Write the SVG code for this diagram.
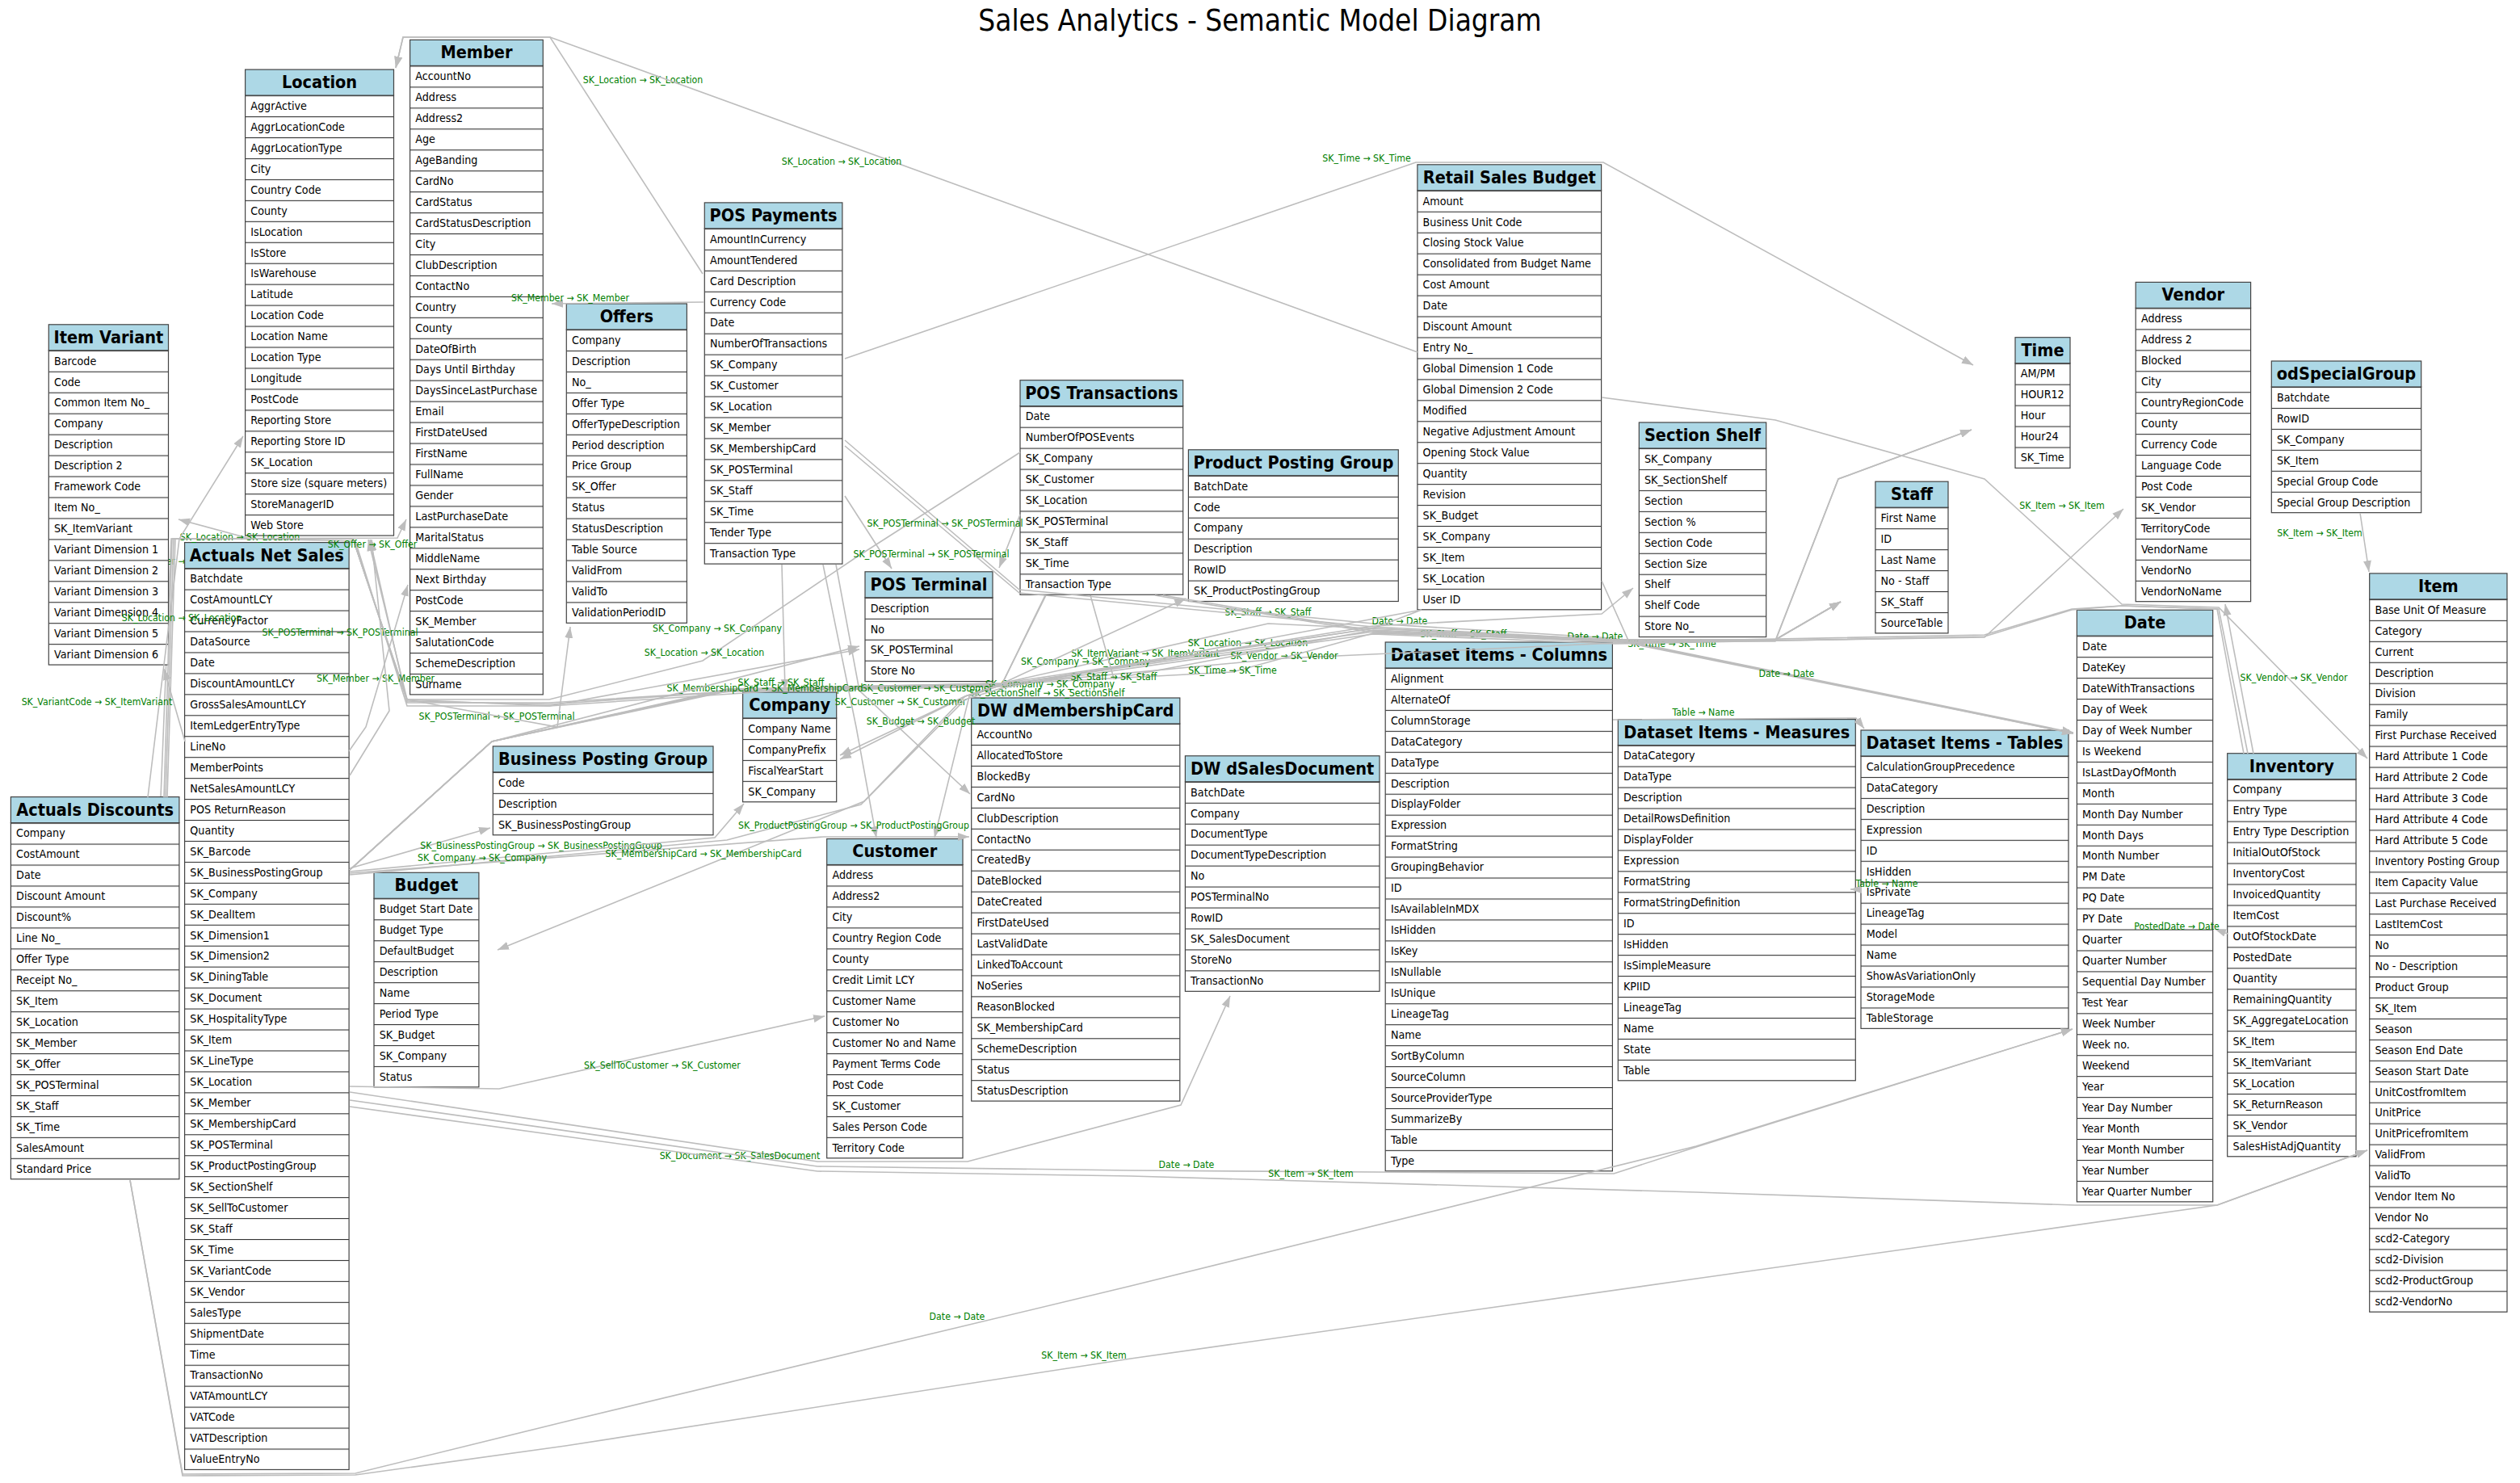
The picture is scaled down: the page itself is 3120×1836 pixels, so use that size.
<svg xmlns="http://www.w3.org/2000/svg" width="3120" height="1836" viewBox="0 0 3120 1836">
<defs>
<style>
.box{fill:url(#rows);stroke:#444;stroke-width:1.2}
.hdr{fill:#add8e6;stroke:#444;stroke-width:1.2}
.ht{font-family:"DejaVu Sans","Liberation Sans",sans-serif;font-weight:bold;font-size:22px;text-anchor:middle;fill:#000}
.rt{font-family:"DejaVu Sans","Liberation Sans",sans-serif;font-size:14.5px;fill:#000}
.e path{fill:none;stroke:#bdbdbd;stroke-width:1.6;marker-end:url(#ah)}
.e text{font-family:"DejaVu Sans","Liberation Sans",sans-serif;font-size:12.5px;fill:#008000;text-anchor:middle}
.title{font-family:"DejaVu Sans","Liberation Sans",sans-serif;font-size:37.5px;text-anchor:middle;fill:#000}
</style>
<marker id="ah" markerUnits="userSpaceOnUse" markerWidth="15" markerHeight="11" refX="14" refY="5.5" orient="auto"><path d="M0,0.5 L14,5.5 L0,10.5 Z" fill="#bdbdbd"/></marker>
<pattern id="rows" patternUnits="userSpaceOnUse" x="0" y="32" width="400" height="25.95"><rect width="400" height="25.95" fill="#fff"/><rect width="400" height="1.1" fill="#333"/></pattern>
</defs>
<rect width="3120" height="1836" fill="#fff"/>
<text class="title" transform="translate(1560,38) scale(0.88,1)">Sales Analytics - Semantic Model Diagram</text>

<g id="connectors-back">
<g class="e" id="e-ad-member"><path d="M199,987 L212,667 L492,666 L503,643"/><text transform="translate(225,698.5) scale(0.88,1)">SK_Member → SK_Member</text></g>
</g>

<g id="nodes">
<g id="node-location" transform="translate(303.6,86.1)"><rect class="box" y="32" width="183.9" height="544.95"/><rect class="hdr" width="183.9" height="32"/><g transform="scale(0.88,1)"><text class="ht" x="104.5" y="23">Location</text><text class="rt"><tspan x="7.6" y="49.8">AggrActive</tspan><tspan x="7.6" dy="25.95">AggrLocationCode</tspan><tspan x="7.6" dy="25.95">AggrLocationType</tspan><tspan x="7.6" dy="25.95">City</tspan><tspan x="7.6" dy="25.95">Country Code</tspan><tspan x="7.6" dy="25.95">County</tspan><tspan x="7.6" dy="25.95">IsLocation</tspan><tspan x="7.6" dy="25.95">IsStore</tspan><tspan x="7.6" dy="25.95">IsWarehouse</tspan><tspan x="7.6" dy="25.95">Latitude</tspan><tspan x="7.6" dy="25.95">Location Code</tspan><tspan x="7.6" dy="25.95">Location Name</tspan><tspan x="7.6" dy="25.95">Location Type</tspan><tspan x="7.6" dy="25.95">Longitude</tspan><tspan x="7.6" dy="25.95">PostCode</tspan><tspan x="7.6" dy="25.95">Reporting Store</tspan><tspan x="7.6" dy="25.95">Reporting Store ID</tspan><tspan x="7.6" dy="25.95">SK_Location</tspan><tspan x="7.6" dy="25.95">Store size (square meters)</tspan><tspan x="7.6" dy="25.95">StoreManagerID</tspan><tspan x="7.6" dy="25.95">Web Store</tspan></text></g></g>

<g id="node-member" transform="translate(507.6,49.4)"><rect class="box" y="32" width="164.7" height="778.5"/><rect class="hdr" width="164.7" height="32"/><g transform="scale(0.88,1)"><text class="ht" x="93.6" y="23">Member</text><text class="rt"><tspan x="7.6" y="49.8">AccountNo</tspan><tspan x="7.6" dy="25.95">Address</tspan><tspan x="7.6" dy="25.95">Address2</tspan><tspan x="7.6" dy="25.95">Age</tspan><tspan x="7.6" dy="25.95">AgeBanding</tspan><tspan x="7.6" dy="25.95">CardNo</tspan><tspan x="7.6" dy="25.95">CardStatus</tspan><tspan x="7.6" dy="25.95">CardStatusDescription</tspan><tspan x="7.6" dy="25.95">City</tspan><tspan x="7.6" dy="25.95">ClubDescription</tspan><tspan x="7.6" dy="25.95">ContactNo</tspan><tspan x="7.6" dy="25.95">Country</tspan><tspan x="7.6" dy="25.95">County</tspan><tspan x="7.6" dy="25.95">DateOfBirth</tspan><tspan x="7.6" dy="25.95">Days Until Birthday</tspan><tspan x="7.6" dy="25.95">DaysSinceLastPurchase</tspan><tspan x="7.6" dy="25.95">Email</tspan><tspan x="7.6" dy="25.95">FirstDateUsed</tspan><tspan x="7.6" dy="25.95">FirstName</tspan><tspan x="7.6" dy="25.95">FullName</tspan><tspan x="7.6" dy="25.95">Gender</tspan><tspan x="7.6" dy="25.95">LastPurchaseDate</tspan><tspan x="7.6" dy="25.95">MaritalStatus</tspan><tspan x="7.6" dy="25.95">MiddleName</tspan><tspan x="7.6" dy="25.95">Next Birthday</tspan><tspan x="7.6" dy="25.95">PostCode</tspan><tspan x="7.6" dy="25.95">SK_Member</tspan><tspan x="7.6" dy="25.95">SalutationCode</tspan><tspan x="7.6" dy="25.95">SchemeDescription</tspan><tspan x="7.6" dy="25.95">Surname</tspan></text></g></g>

<g id="node-item-variant" transform="translate(60.3,401.8)"><rect class="box" y="32" width="148.2" height="389.25"/><rect class="hdr" width="148.2" height="32"/><g transform="scale(0.88,1)"><text class="ht" x="84.2" y="23">Item Variant</text><text class="rt"><tspan x="7.6" y="49.8">Barcode</tspan><tspan x="7.6" dy="25.95">Code</tspan><tspan x="7.6" dy="25.95">Common Item No_</tspan><tspan x="7.6" dy="25.95">Company</tspan><tspan x="7.6" dy="25.95">Description</tspan><tspan x="7.6" dy="25.95">Description 2</tspan><tspan x="7.6" dy="25.95">Framework Code</tspan><tspan x="7.6" dy="25.95">Item No_</tspan><tspan x="7.6" dy="25.95">SK_ItemVariant</tspan><tspan x="7.6" dy="25.95">Variant Dimension 1</tspan><tspan x="7.6" dy="25.95">Variant Dimension 2</tspan><tspan x="7.6" dy="25.95">Variant Dimension 3</tspan><tspan x="7.6" dy="25.95">Variant Dimension 4</tspan><tspan x="7.6" dy="25.95">Variant Dimension 5</tspan><tspan x="7.6" dy="25.95">Variant Dimension 6</tspan></text></g></g>

<g id="node-actuals-net-sales" transform="translate(228.6,671.6)"><rect class="box" y="32" width="203.5" height="1115.85"/><rect class="hdr" width="203.5" height="32"/><g transform="scale(0.88,1)"><text class="ht" x="115.6" y="23">Actuals Net Sales</text><text class="rt"><tspan x="7.6" y="49.8">Batchdate</tspan><tspan x="7.6" dy="25.95">CostAmountLCY</tspan><tspan x="7.6" dy="25.95">CurrencyFactor</tspan><tspan x="7.6" dy="25.95">DataSource</tspan><tspan x="7.6" dy="25.95">Date</tspan><tspan x="7.6" dy="25.95">DiscountAmountLCY</tspan><tspan x="7.6" dy="25.95">GrossSalesAmountLCY</tspan><tspan x="7.6" dy="25.95">ItemLedgerEntryType</tspan><tspan x="7.6" dy="25.95">LineNo</tspan><tspan x="7.6" dy="25.95">MemberPoints</tspan><tspan x="7.6" dy="25.95">NetSalesAmountLCY</tspan><tspan x="7.6" dy="25.95">POS ReturnReason</tspan><tspan x="7.6" dy="25.95">Quantity</tspan><tspan x="7.6" dy="25.95">SK_Barcode</tspan><tspan x="7.6" dy="25.95">SK_BusinessPostingGroup</tspan><tspan x="7.6" dy="25.95">SK_Company</tspan><tspan x="7.6" dy="25.95">SK_DealItem</tspan><tspan x="7.6" dy="25.95">SK_Dimension1</tspan><tspan x="7.6" dy="25.95">SK_Dimension2</tspan><tspan x="7.6" dy="25.95">SK_DiningTable</tspan><tspan x="7.6" dy="25.95">SK_Document</tspan><tspan x="7.6" dy="25.95">SK_HospitalityType</tspan><tspan x="7.6" dy="25.95">SK_Item</tspan><tspan x="7.6" dy="25.95">SK_LineType</tspan><tspan x="7.6" dy="25.95">SK_Location</tspan><tspan x="7.6" dy="25.95">SK_Member</tspan><tspan x="7.6" dy="25.95">SK_MembershipCard</tspan><tspan x="7.6" dy="25.95">SK_POSTerminal</tspan><tspan x="7.6" dy="25.95">SK_ProductPostingGroup</tspan><tspan x="7.6" dy="25.95">SK_SectionShelf</tspan><tspan x="7.6" dy="25.95">SK_SellToCustomer</tspan><tspan x="7.6" dy="25.95">SK_Staff</tspan><tspan x="7.6" dy="25.95">SK_Time</tspan><tspan x="7.6" dy="25.95">SK_VariantCode</tspan><tspan x="7.6" dy="25.95">SK_Vendor</tspan><tspan x="7.6" dy="25.95">SalesType</tspan><tspan x="7.6" dy="25.95">ShipmentDate</tspan><tspan x="7.6" dy="25.95">Time</tspan><tspan x="7.6" dy="25.95">TransactionNo</tspan><tspan x="7.6" dy="25.95">VATAmountLCY</tspan><tspan x="7.6" dy="25.95">VATCode</tspan><tspan x="7.6" dy="25.95">VATDescription</tspan><tspan x="7.6" dy="25.95">ValueEntryNo</tspan></text></g></g>

<g id="node-actuals-discounts" transform="translate(13.4,986.6)"><rect class="box" y="32" width="208.5" height="441.15"/><rect class="hdr" width="208.5" height="32"/><g transform="scale(0.88,1)"><text class="ht" x="118.5" y="23">Actuals Discounts</text><text class="rt"><tspan x="7.6" y="49.8">Company</tspan><tspan x="7.6" dy="25.95">CostAmount</tspan><tspan x="7.6" dy="25.95">Date</tspan><tspan x="7.6" dy="25.95">Discount Amount</tspan><tspan x="7.6" dy="25.95">Discount%</tspan><tspan x="7.6" dy="25.95">Line No_</tspan><tspan x="7.6" dy="25.95">Offer Type</tspan><tspan x="7.6" dy="25.95">Receipt No_</tspan><tspan x="7.6" dy="25.95">SK_Item</tspan><tspan x="7.6" dy="25.95">SK_Location</tspan><tspan x="7.6" dy="25.95">SK_Member</tspan><tspan x="7.6" dy="25.95">SK_Offer</tspan><tspan x="7.6" dy="25.95">SK_POSTerminal</tspan><tspan x="7.6" dy="25.95">SK_Staff</tspan><tspan x="7.6" dy="25.95">SK_Time</tspan><tspan x="7.6" dy="25.95">SalesAmount</tspan><tspan x="7.6" dy="25.95">Standard Price</tspan></text></g></g>

<g id="node-budget" transform="translate(463,1080.3)"><rect class="box" y="32" width="129.9" height="233.55"/><rect class="hdr" width="129.9" height="32"/><g transform="scale(0.88,1)"><text class="ht" x="73.8" y="23">Budget</text><text class="rt"><tspan x="7.6" y="49.8">Budget Start Date</tspan><tspan x="7.6" dy="25.95">Budget Type</tspan><tspan x="7.6" dy="25.95">DefaultBudget</tspan><tspan x="7.6" dy="25.95">Description</tspan><tspan x="7.6" dy="25.95">Name</tspan><tspan x="7.6" dy="25.95">Period Type</tspan><tspan x="7.6" dy="25.95">SK_Budget</tspan><tspan x="7.6" dy="25.95">SK_Company</tspan><tspan x="7.6" dy="25.95">Status</tspan></text></g></g>

<g id="node-business-posting-group" transform="translate(610.3,923.9)"><rect class="box" y="32" width="272.7" height="77.85"/><rect class="hdr" width="272.7" height="32"/><g transform="scale(0.88,1)"><text class="ht" x="154.9" y="23">Business Posting Group</text><text class="rt"><tspan x="7.6" y="49.8">Code</tspan><tspan x="7.6" dy="25.95">Description</tspan><tspan x="7.6" dy="25.95">SK_BusinessPostingGroup</tspan></text></g></g>

<g id="node-pos-payments" transform="translate(872.3,250.9)"><rect class="box" y="32" width="170.6" height="415.2"/><rect class="hdr" width="170.6" height="32"/><g transform="scale(0.88,1)"><text class="ht" x="96.9" y="23">POS Payments</text><text class="rt"><tspan x="7.6" y="49.8">AmountInCurrency</tspan><tspan x="7.6" dy="25.95">AmountTendered</tspan><tspan x="7.6" dy="25.95">Card Description</tspan><tspan x="7.6" dy="25.95">Currency Code</tspan><tspan x="7.6" dy="25.95">Date</tspan><tspan x="7.6" dy="25.95">NumberOfTransactions</tspan><tspan x="7.6" dy="25.95">SK_Company</tspan><tspan x="7.6" dy="25.95">SK_Customer</tspan><tspan x="7.6" dy="25.95">SK_Location</tspan><tspan x="7.6" dy="25.95">SK_Member</tspan><tspan x="7.6" dy="25.95">SK_MembershipCard</tspan><tspan x="7.6" dy="25.95">SK_POSTerminal</tspan><tspan x="7.6" dy="25.95">SK_Staff</tspan><tspan x="7.6" dy="25.95">SK_Time</tspan><tspan x="7.6" dy="25.95">Tender Type</tspan><tspan x="7.6" dy="25.95">Transaction Type</tspan></text></g></g>

<g id="node-offers" transform="translate(701.3,376)"><rect class="box" y="32" width="149.1" height="363.3"/><rect class="hdr" width="149.1" height="32"/><g transform="scale(0.88,1)"><text class="ht" x="84.7" y="23">Offers</text><text class="rt"><tspan x="7.6" y="49.8">Company</tspan><tspan x="7.6" dy="25.95">Description</tspan><tspan x="7.6" dy="25.95">No_</tspan><tspan x="7.6" dy="25.95">Offer Type</tspan><tspan x="7.6" dy="25.95">OfferTypeDescription</tspan><tspan x="7.6" dy="25.95">Period description</tspan><tspan x="7.6" dy="25.95">Price Group</tspan><tspan x="7.6" dy="25.95">SK_Offer</tspan><tspan x="7.6" dy="25.95">Status</tspan><tspan x="7.6" dy="25.95">StatusDescription</tspan><tspan x="7.6" dy="25.95">Table Source</tspan><tspan x="7.6" dy="25.95">ValidFrom</tspan><tspan x="7.6" dy="25.95">ValidTo</tspan><tspan x="7.6" dy="25.95">ValidationPeriodID</tspan></text></g></g>

<g id="node-pos-transactions" transform="translate(1263,470.7)"><rect class="box" y="32" width="201.7" height="233.55"/><rect class="hdr" width="201.7" height="32"/><g transform="scale(0.88,1)"><text class="ht" x="114.6" y="23">POS Transactions</text><text class="rt"><tspan x="7.6" y="49.8">Date</tspan><tspan x="7.6" dy="25.95">NumberOfPOSEvents</tspan><tspan x="7.6" dy="25.95">SK_Company</tspan><tspan x="7.6" dy="25.95">SK_Customer</tspan><tspan x="7.6" dy="25.95">SK_Location</tspan><tspan x="7.6" dy="25.95">SK_POSTerminal</tspan><tspan x="7.6" dy="25.95">SK_Staff</tspan><tspan x="7.6" dy="25.95">SK_Time</tspan><tspan x="7.6" dy="25.95">Transaction Type</tspan></text></g></g>

<g id="node-pos-terminal" transform="translate(1071,707.8)"><rect class="box" y="32" width="158" height="103.8"/><rect class="hdr" width="158" height="32"/><g transform="scale(0.88,1)"><text class="ht" x="89.8" y="23">POS Terminal</text><text class="rt"><tspan x="7.6" y="49.8">Description</tspan><tspan x="7.6" dy="25.95">No</tspan><tspan x="7.6" dy="25.95">SK_POSTerminal</tspan><tspan x="7.6" dy="25.95">Store No</tspan></text></g></g>

<g id="node-company" transform="translate(919.6,857)"><rect class="box" y="32" width="116.1" height="103.8"/><rect class="hdr" width="116.1" height="32"/><g transform="scale(0.88,1)"><text class="ht" x="66" y="23">Company</text><text class="rt"><tspan x="7.6" y="49.8">Company Name</tspan><tspan x="7.6" dy="25.95">CompanyPrefix</tspan><tspan x="7.6" dy="25.95">FiscalYearStart</tspan><tspan x="7.6" dy="25.95">SK_Company</tspan></text></g></g>

<g id="node-dw-dmembershipcard" transform="translate(1202.7,864)"><rect class="box" y="32" width="258.1" height="467.1"/><rect class="hdr" width="258.1" height="32"/><g transform="scale(0.88,1)"><text class="ht" x="146.6" y="23">DW dMembershipCard</text><text class="rt"><tspan x="7.6" y="49.8">AccountNo</tspan><tspan x="7.6" dy="25.95">AllocatedToStore</tspan><tspan x="7.6" dy="25.95">BlockedBy</tspan><tspan x="7.6" dy="25.95">CardNo</tspan><tspan x="7.6" dy="25.95">ClubDescription</tspan><tspan x="7.6" dy="25.95">ContactNo</tspan><tspan x="7.6" dy="25.95">CreatedBy</tspan><tspan x="7.6" dy="25.95">DateBlocked</tspan><tspan x="7.6" dy="25.95">DateCreated</tspan><tspan x="7.6" dy="25.95">FirstDateUsed</tspan><tspan x="7.6" dy="25.95">LastValidDate</tspan><tspan x="7.6" dy="25.95">LinkedToAccount</tspan><tspan x="7.6" dy="25.95">NoSeries</tspan><tspan x="7.6" dy="25.95">ReasonBlocked</tspan><tspan x="7.6" dy="25.95">SK_MembershipCard</tspan><tspan x="7.6" dy="25.95">SchemeDescription</tspan><tspan x="7.6" dy="25.95">Status</tspan><tspan x="7.6" dy="25.95">StatusDescription</tspan></text></g></g>

<g id="node-customer" transform="translate(1023.7,1038.5)"><rect class="box" y="32" width="168.3" height="363.3"/><rect class="hdr" width="168.3" height="32"/><g transform="scale(0.88,1)"><text class="ht" x="95.6" y="23">Customer</text><text class="rt"><tspan x="7.6" y="49.8">Address</tspan><tspan x="7.6" dy="25.95">Address2</tspan><tspan x="7.6" dy="25.95">City</tspan><tspan x="7.6" dy="25.95">Country Region Code</tspan><tspan x="7.6" dy="25.95">County</tspan><tspan x="7.6" dy="25.95">Credit Limit LCY</tspan><tspan x="7.6" dy="25.95">Customer Name</tspan><tspan x="7.6" dy="25.95">Customer No</tspan><tspan x="7.6" dy="25.95">Customer No and Name</tspan><tspan x="7.6" dy="25.95">Payment Terms Code</tspan><tspan x="7.6" dy="25.95">Post Code</tspan><tspan x="7.6" dy="25.95">SK_Customer</tspan><tspan x="7.6" dy="25.95">Sales Person Code</tspan><tspan x="7.6" dy="25.95">Territory Code</tspan></text></g></g>

<g id="node-retail-sales-budget" transform="translate(1754.9,203.8)"><rect class="box" y="32" width="227.7" height="519"/><rect class="hdr" width="227.7" height="32"/><g transform="scale(0.88,1)"><text class="ht" x="129.4" y="23">Retail Sales Budget</text><text class="rt"><tspan x="7.6" y="49.8">Amount</tspan><tspan x="7.6" dy="25.95">Business Unit Code</tspan><tspan x="7.6" dy="25.95">Closing Stock Value</tspan><tspan x="7.6" dy="25.95">Consolidated from Budget Name</tspan><tspan x="7.6" dy="25.95">Cost Amount</tspan><tspan x="7.6" dy="25.95">Date</tspan><tspan x="7.6" dy="25.95">Discount Amount</tspan><tspan x="7.6" dy="25.95">Entry No_</tspan><tspan x="7.6" dy="25.95">Global Dimension 1 Code</tspan><tspan x="7.6" dy="25.95">Global Dimension 2 Code</tspan><tspan x="7.6" dy="25.95">Modified</tspan><tspan x="7.6" dy="25.95">Negative Adjustment Amount</tspan><tspan x="7.6" dy="25.95">Opening Stock Value</tspan><tspan x="7.6" dy="25.95">Quantity</tspan><tspan x="7.6" dy="25.95">Revision</tspan><tspan x="7.6" dy="25.95">SK_Budget</tspan><tspan x="7.6" dy="25.95">SK_Company</tspan><tspan x="7.6" dy="25.95">SK_Item</tspan><tspan x="7.6" dy="25.95">SK_Location</tspan><tspan x="7.6" dy="25.95">User ID</tspan></text></g></g>

<g id="node-product-posting-group" transform="translate(1471.4,556.8)"><rect class="box" y="32" width="259.9" height="155.7"/><rect class="hdr" width="259.9" height="32"/><g transform="scale(0.88,1)"><text class="ht" x="147.7" y="23">Product Posting Group</text><text class="rt"><tspan x="7.6" y="49.8">BatchDate</tspan><tspan x="7.6" dy="25.95">Code</tspan><tspan x="7.6" dy="25.95">Company</tspan><tspan x="7.6" dy="25.95">Description</tspan><tspan x="7.6" dy="25.95">RowID</tspan><tspan x="7.6" dy="25.95">SK_ProductPostingGroup</tspan></text></g></g>

<g id="node-section-shelf" transform="translate(2029.3,523)"><rect class="box" y="32" width="157.4" height="233.55"/><rect class="hdr" width="157.4" height="32"/><g transform="scale(0.88,1)"><text class="ht" x="89.4" y="23">Section Shelf</text><text class="rt"><tspan x="7.6" y="49.8">SK_Company</tspan><tspan x="7.6" dy="25.95">SK_SectionShelf</tspan><tspan x="7.6" dy="25.95">Section</tspan><tspan x="7.6" dy="25.95">Section %</tspan><tspan x="7.6" dy="25.95">Section Code</tspan><tspan x="7.6" dy="25.95">Section Size</tspan><tspan x="7.6" dy="25.95">Shelf</tspan><tspan x="7.6" dy="25.95">Shelf Code</tspan><tspan x="7.6" dy="25.95">Store No_</tspan></text></g></g>

<g id="node-dataset-items-columns" transform="translate(1715.2,795)"><rect class="box" y="32" width="281.2" height="622.8"/><rect class="hdr" width="281.2" height="32"/><g transform="scale(0.88,1)"><text class="ht" x="159.8" y="23">Dataset Items - Columns</text><text class="rt"><tspan x="7.6" y="49.8">Alignment</tspan><tspan x="7.6" dy="25.95">AlternateOf</tspan><tspan x="7.6" dy="25.95">ColumnStorage</tspan><tspan x="7.6" dy="25.95">DataCategory</tspan><tspan x="7.6" dy="25.95">DataType</tspan><tspan x="7.6" dy="25.95">Description</tspan><tspan x="7.6" dy="25.95">DisplayFolder</tspan><tspan x="7.6" dy="25.95">Expression</tspan><tspan x="7.6" dy="25.95">FormatString</tspan><tspan x="7.6" dy="25.95">GroupingBehavior</tspan><tspan x="7.6" dy="25.95">ID</tspan><tspan x="7.6" dy="25.95">IsAvailableInMDX</tspan><tspan x="7.6" dy="25.95">IsHidden</tspan><tspan x="7.6" dy="25.95">IsKey</tspan><tspan x="7.6" dy="25.95">IsNullable</tspan><tspan x="7.6" dy="25.95">IsUnique</tspan><tspan x="7.6" dy="25.95">LineageTag</tspan><tspan x="7.6" dy="25.95">Name</tspan><tspan x="7.6" dy="25.95">SortByColumn</tspan><tspan x="7.6" dy="25.95">SourceColumn</tspan><tspan x="7.6" dy="25.95">SourceProviderType</tspan><tspan x="7.6" dy="25.95">SummarizeBy</tspan><tspan x="7.6" dy="25.95">Table</tspan><tspan x="7.6" dy="25.95">Type</tspan></text></g></g>

<g id="node-dw-dsalesdocument" transform="translate(1467.4,935.8)"><rect class="box" y="32" width="240.6" height="259.5"/><rect class="hdr" width="240.6" height="32"/><g transform="scale(0.88,1)"><text class="ht" x="136.7" y="23">DW dSalesDocument</text><text class="rt"><tspan x="7.6" y="49.8">BatchDate</tspan><tspan x="7.6" dy="25.95">Company</tspan><tspan x="7.6" dy="25.95">DocumentType</tspan><tspan x="7.6" dy="25.95">DocumentTypeDescription</tspan><tspan x="7.6" dy="25.95">No</tspan><tspan x="7.6" dy="25.95">POSTerminalNo</tspan><tspan x="7.6" dy="25.95">RowID</tspan><tspan x="7.6" dy="25.95">SK_SalesDocument</tspan><tspan x="7.6" dy="25.95">StoreNo</tspan><tspan x="7.6" dy="25.95">TransactionNo</tspan></text></g></g>

<g id="node-dataset-items-measures" transform="translate(2003.3,890.6)"><rect class="box" y="32" width="294" height="415.2"/><rect class="hdr" width="294" height="32"/><g transform="scale(0.88,1)"><text class="ht" x="167" y="23">Dataset Items - Measures</text><text class="rt"><tspan x="7.6" y="49.8">DataCategory</tspan><tspan x="7.6" dy="25.95">DataType</tspan><tspan x="7.6" dy="25.95">Description</tspan><tspan x="7.6" dy="25.95">DetailRowsDefinition</tspan><tspan x="7.6" dy="25.95">DisplayFolder</tspan><tspan x="7.6" dy="25.95">Expression</tspan><tspan x="7.6" dy="25.95">FormatString</tspan><tspan x="7.6" dy="25.95">FormatStringDefinition</tspan><tspan x="7.6" dy="25.95">ID</tspan><tspan x="7.6" dy="25.95">IsHidden</tspan><tspan x="7.6" dy="25.95">IsSimpleMeasure</tspan><tspan x="7.6" dy="25.95">KPIID</tspan><tspan x="7.6" dy="25.95">LineageTag</tspan><tspan x="7.6" dy="25.95">Name</tspan><tspan x="7.6" dy="25.95">State</tspan><tspan x="7.6" dy="25.95">Table</tspan></text></g></g>

<g id="node-dataset-items-tables" transform="translate(2304,904)"><rect class="box" y="32" width="257" height="337.35"/><rect class="hdr" width="257" height="32"/><g transform="scale(0.88,1)"><text class="ht" x="146" y="23">Dataset Items - Tables</text><text class="rt"><tspan x="7.6" y="49.8">CalculationGroupPrecedence</tspan><tspan x="7.6" dy="25.95">DataCategory</tspan><tspan x="7.6" dy="25.95">Description</tspan><tspan x="7.6" dy="25.95">Expression</tspan><tspan x="7.6" dy="25.95">ID</tspan><tspan x="7.6" dy="25.95">IsHidden</tspan><tspan x="7.6" dy="25.95">IsPrivate</tspan><tspan x="7.6" dy="25.95">LineageTag</tspan><tspan x="7.6" dy="25.95">Model</tspan><tspan x="7.6" dy="25.95">Name</tspan><tspan x="7.6" dy="25.95">ShowAsVariationOnly</tspan><tspan x="7.6" dy="25.95">StorageMode</tspan><tspan x="7.6" dy="25.95">TableStorage</tspan></text></g></g>

<g id="node-staff" transform="translate(2321.9,596.2)"><rect class="box" y="32" width="90.1" height="155.7"/><rect class="hdr" width="90.1" height="32"/><g transform="scale(0.88,1)"><text class="ht" x="51.2" y="23">Staff</text><text class="rt"><tspan x="7.6" y="49.8">First Name</tspan><tspan x="7.6" dy="25.95">ID</tspan><tspan x="7.6" dy="25.95">Last Name</tspan><tspan x="7.6" dy="25.95">No - Staff</tspan><tspan x="7.6" dy="25.95">SK_Staff</tspan><tspan x="7.6" dy="25.95">SourceTable</tspan></text></g></g>

<g id="node-time" transform="translate(2495,417.7)"><rect class="box" y="32" width="68" height="129.75"/><rect class="hdr" width="68" height="32"/><g transform="scale(0.88,1)"><text class="ht" x="38.6" y="23">Time</text><text class="rt"><tspan x="7.6" y="49.8">AM/PM</tspan><tspan x="7.6" dy="25.95">HOUR12</tspan><tspan x="7.6" dy="25.95">Hour</tspan><tspan x="7.6" dy="25.95">Hour24</tspan><tspan x="7.6" dy="25.95">SK_Time</tspan></text></g></g>

<g id="node-vendor" transform="translate(2644.2,349.4)"><rect class="box" y="32" width="142.4" height="363.3"/><rect class="hdr" width="142.4" height="32"/><g transform="scale(0.88,1)"><text class="ht" x="80.9" y="23">Vendor</text><text class="rt"><tspan x="7.6" y="49.8">Address</tspan><tspan x="7.6" dy="25.95">Address 2</tspan><tspan x="7.6" dy="25.95">Blocked</tspan><tspan x="7.6" dy="25.95">City</tspan><tspan x="7.6" dy="25.95">CountryRegionCode</tspan><tspan x="7.6" dy="25.95">County</tspan><tspan x="7.6" dy="25.95">Currency Code</tspan><tspan x="7.6" dy="25.95">Language Code</tspan><tspan x="7.6" dy="25.95">Post Code</tspan><tspan x="7.6" dy="25.95">SK_Vendor</tspan><tspan x="7.6" dy="25.95">TerritoryCode</tspan><tspan x="7.6" dy="25.95">VendorName</tspan><tspan x="7.6" dy="25.95">VendorNo</tspan><tspan x="7.6" dy="25.95">VendorNoName</tspan></text></g></g>

<g id="node-date" transform="translate(2571.4,755.2)"><rect class="box" y="32" width="168.3" height="700.65"/><rect class="hdr" width="168.3" height="32"/><g transform="scale(0.88,1)"><text class="ht" x="95.6" y="23">Date</text><text class="rt"><tspan x="7.6" y="49.8">Date</tspan><tspan x="7.6" dy="25.95">DateKey</tspan><tspan x="7.6" dy="25.95">DateWithTransactions</tspan><tspan x="7.6" dy="25.95">Day of Week</tspan><tspan x="7.6" dy="25.95">Day of Week Number</tspan><tspan x="7.6" dy="25.95">Is Weekend</tspan><tspan x="7.6" dy="25.95">IsLastDayOfMonth</tspan><tspan x="7.6" dy="25.95">Month</tspan><tspan x="7.6" dy="25.95">Month Day Number</tspan><tspan x="7.6" dy="25.95">Month Days</tspan><tspan x="7.6" dy="25.95">Month Number</tspan><tspan x="7.6" dy="25.95">PM Date</tspan><tspan x="7.6" dy="25.95">PQ Date</tspan><tspan x="7.6" dy="25.95">PY Date</tspan><tspan x="7.6" dy="25.95">Quarter</tspan><tspan x="7.6" dy="25.95">Quarter Number</tspan><tspan x="7.6" dy="25.95">Sequential Day Number</tspan><tspan x="7.6" dy="25.95">Test Year</tspan><tspan x="7.6" dy="25.95">Week Number</tspan><tspan x="7.6" dy="25.95">Week no.</tspan><tspan x="7.6" dy="25.95">Weekend</tspan><tspan x="7.6" dy="25.95">Year</tspan><tspan x="7.6" dy="25.95">Year Day Number</tspan><tspan x="7.6" dy="25.95">Year Month</tspan><tspan x="7.6" dy="25.95">Year Month Number</tspan><tspan x="7.6" dy="25.95">Year Number</tspan><tspan x="7.6" dy="25.95">Year Quarter Number</tspan></text></g></g>

<g id="node-odspecialgroup" transform="translate(2812.3,447)"><rect class="box" y="32" width="185.4" height="155.7"/><rect class="hdr" width="185.4" height="32"/><g transform="scale(0.88,1)"><text class="ht" x="105.3" y="23">odSpecialGroup</text><text class="rt"><tspan x="7.6" y="49.8">Batchdate</tspan><tspan x="7.6" dy="25.95">RowID</tspan><tspan x="7.6" dy="25.95">SK_Company</tspan><tspan x="7.6" dy="25.95">SK_Item</tspan><tspan x="7.6" dy="25.95">Special Group Code</tspan><tspan x="7.6" dy="25.95">Special Group Description</tspan></text></g></g>

<g id="node-item" transform="translate(2933.7,709.9)"><rect class="box" y="32" width="170.3" height="882.3"/><rect class="hdr" width="170.3" height="32"/><g transform="scale(0.88,1)"><text class="ht" x="96.8" y="23">Item</text><text class="rt"><tspan x="7.6" y="49.8">Base Unit Of Measure</tspan><tspan x="7.6" dy="25.95">Category</tspan><tspan x="7.6" dy="25.95">Current</tspan><tspan x="7.6" dy="25.95">Description</tspan><tspan x="7.6" dy="25.95">Division</tspan><tspan x="7.6" dy="25.95">Family</tspan><tspan x="7.6" dy="25.95">First Purchase Received</tspan><tspan x="7.6" dy="25.95">Hard Attribute 1 Code</tspan><tspan x="7.6" dy="25.95">Hard Attribute 2 Code</tspan><tspan x="7.6" dy="25.95">Hard Attribute 3 Code</tspan><tspan x="7.6" dy="25.95">Hard Attribute 4 Code</tspan><tspan x="7.6" dy="25.95">Hard Attribute 5 Code</tspan><tspan x="7.6" dy="25.95">Inventory Posting Group</tspan><tspan x="7.6" dy="25.95">Item Capacity Value</tspan><tspan x="7.6" dy="25.95">Last Purchase Received</tspan><tspan x="7.6" dy="25.95">LastItemCost</tspan><tspan x="7.6" dy="25.95">No</tspan><tspan x="7.6" dy="25.95">No - Description</tspan><tspan x="7.6" dy="25.95">Product Group</tspan><tspan x="7.6" dy="25.95">SK_Item</tspan><tspan x="7.6" dy="25.95">Season</tspan><tspan x="7.6" dy="25.95">Season End Date</tspan><tspan x="7.6" dy="25.95">Season Start Date</tspan><tspan x="7.6" dy="25.95">UnitCostfromItem</tspan><tspan x="7.6" dy="25.95">UnitPrice</tspan><tspan x="7.6" dy="25.95">UnitPricefromItem</tspan><tspan x="7.6" dy="25.95">ValidFrom</tspan><tspan x="7.6" dy="25.95">ValidTo</tspan><tspan x="7.6" dy="25.95">Vendor Item No</tspan><tspan x="7.6" dy="25.95">Vendor No</tspan><tspan x="7.6" dy="25.95">scd2-Category</tspan><tspan x="7.6" dy="25.95">scd2-Division</tspan><tspan x="7.6" dy="25.95">scd2-ProductGroup</tspan><tspan x="7.6" dy="25.95">scd2-VendorNo</tspan></text></g></g>

<g id="node-inventory" transform="translate(2757.7,932.7)"><rect class="box" y="32" width="159.3" height="467.1"/><rect class="hdr" width="159.3" height="32"/><g transform="scale(0.88,1)"><text class="ht" x="90.5" y="23">Inventory</text><text class="rt"><tspan x="7.6" y="49.8">Company</tspan><tspan x="7.6" dy="25.95">Entry Type</tspan><tspan x="7.6" dy="25.95">Entry Type Description</tspan><tspan x="7.6" dy="25.95">InitialOutOfStock</tspan><tspan x="7.6" dy="25.95">InventoryCost</tspan><tspan x="7.6" dy="25.95">InvoicedQuantity</tspan><tspan x="7.6" dy="25.95">ItemCost</tspan><tspan x="7.6" dy="25.95">OutOfStockDate</tspan><tspan x="7.6" dy="25.95">PostedDate</tspan><tspan x="7.6" dy="25.95">Quantity</tspan><tspan x="7.6" dy="25.95">RemainingQuantity</tspan><tspan x="7.6" dy="25.95">SK_AggregateLocation</tspan><tspan x="7.6" dy="25.95">SK_Item</tspan><tspan x="7.6" dy="25.95">SK_ItemVariant</tspan><tspan x="7.6" dy="25.95">SK_Location</tspan><tspan x="7.6" dy="25.95">SK_ReturnReason</tspan><tspan x="7.6" dy="25.95">SK_Vendor</tspan><tspan x="7.6" dy="25.95">SalesHistAdjQuantity</tspan></text></g></g>
</g>

<g id="connectors">
<g class="e"><path d="M870,339 L681,46 L499,46 L490,84"/><text transform="translate(796,102.5) scale(0.88,1)">SK_Location → SK_Location</text></g>
<g class="e"><path d="M1755,436 L681,46 L499,46 L490,84"/><text transform="translate(1042,203.5) scale(0.88,1)">SK_Location → SK_Location</text></g>
<g class="e"><path d="M1046,444 L1753,201 L1985,201 L2443,452"/><text transform="translate(1692,199.5) scale(0.88,1)">SK_Time → SK_Time</text></g>
<g class="e"><path d="M872,374 L683,376"/><text transform="translate(706,372.5) scale(0.88,1)">SK_Member → SK_Member</text></g>
<g class="e"><path d="M1983,492 L2198,520 L2457,593 L2627,748 L2747,752 L2931,939"/><text transform="translate(2553,629.5) scale(0.88,1)">SK_Item → SK_Item</text></g>
<g class="e"><path d="M2922,635 L2933,708"/><text transform="translate(2872,663.5) scale(0.88,1)">SK_Item → SK_Item</text></g>
<g class="e"><path d="M2790,933 L2755,748"/><text transform="translate(2840,842.5) scale(0.88,1)">SK_Vendor → SK_Vendor</text></g>
<g class="e"><path d="M2758,1156 L2742,1150"/><text transform="translate(2695,1150.5) scale(0.88,1)">PostedDate → Date</text></g>
<g class="e"><path d="M1997,891 L2298,889 L2308,902"/><text transform="translate(2109,885.5) scale(0.88,1)">Table → Name</text></g>
<g class="e"><path d="M2304,1101 L2291,1101"/><text transform="translate(2336,1097.5) scale(0.88,1)">Table → Name</text></g>
<g class="e"><path d="M433,1077 L609,918 L900,853 L1240,846 L1570,772 L2000,792 L2198,792 L2279,745"/><text transform="translate(1570,761.5) scale(0.88,1)">SK_Staff → SK_Staff</text></g>
<g class="e"><path d="M1046,545 L1262,730 L1700,772 L1996,790 L2567,907"/><text transform="translate(1733,772.5) scale(0.88,1)">Date → Date</text></g>
<g class="e"><path d="M1046,552 L1262,734 L1700,776 L1812,782 L2000,792 L2198,792 L2279,745"/><text transform="translate(1812,788.5) scale(0.88,1)">SK_Staff → SK_Staff</text></g>
<g class="e"><path d="M1983,719 L2017,795 L2567,908"/><text transform="translate(1975,791.5) scale(0.88,1)">Date → Date</text></g>
<g class="e"><path d="M1440,737 L1700,781 L2000,794 L2198,794 L2276,593 L2441,532"/><text transform="translate(2070,800.5) scale(0.88,1)">SK_Time → SK_Time</text></g>
<g class="e"><path d="M1430,737 L1700,783 L1996,792 L2567,908"/><text transform="translate(2212,837.5) scale(0.88,1)">Date → Date</text></g>
<g class="e"><path d="M2778,933 L2745,754 L2627,750 L2565,754 L2457,786 L2000,795 L1700,782 L1240,848 L967,852 L680,870 L504,870 L458,668"/><text transform="translate(1545,799.5) scale(0.88,1)">SK_Location → SK_Location</text></g>
<g class="e"><path d="M2783,933 L2747,754 L2627,750 L2565,755 L2457,788 L2000,797 L1700,785 L1240,850 L967,855 L680,874 L504,874 L440,670 L310,667 L221,643"/><text transform="translate(1418,812.5) scale(0.88,1)">SK_ItemVariant → SK_ItemVariant</text></g>
<g class="e"><path d="M433,1077 L609,918 L900,855 L1240,848 L1590,815 L2000,796 L2457,789 L2629,630"/><text transform="translate(1590,815.5) scale(0.88,1)">SK_Vendor → SK_Vendor</text></g>
<g class="e"><path d="M433,1077 L609,918 L900,854 L1240,847 L1526,832 L1700,784 L2000,793 L2198,793 L2276,593 L2441,532"/><text transform="translate(1526,833.5) scale(0.88,1)">SK_Time → SK_Time</text></g>
<g class="e"><path d="M1760,755 L1700,778 L1240,848 L1195,862 L1040,935"/><text transform="translate(1344,822.5) scale(0.88,1)">SK_Company → SK_Company</text></g>
<g class="e"><path d="M1350,737 L1379,840 L1700,780 L2000,792 L2198,792 L2279,745"/><text transform="translate(1379,841.5) scale(0.88,1)">SK_Staff → SK_Staff</text></g>
<g class="e"><path d="M1294,737 L1240,848 L1195,862 L1040,940"/><text transform="translate(1300,850.5) scale(0.88,1)">SK_Company → SK_Company</text></g>
<g class="e"><path d="M433,1077 L609,918 L900,856 L1240,849 L1700,775 L1983,760 L2022,728"/><text transform="translate(1296,861.5) scale(0.88,1)">SK_SectionShelf → SK_SectionShelf</text></g>
<g class="e"><path d="M1295,737 L1240,848 L1200,862 L1157,1037"/><text transform="translate(1148,855.5) scale(0.88,1)">SK_Customer → SK_Customer</text></g>
<g class="e"><path d="M1019,699 L1060,900 L1085,1037"/><text transform="translate(1115,872.5) scale(0.88,1)">SK_Customer → SK_Customer</text></g>
<g class="e"><path d="M1760,755 L1733,760 L1240,852 L1195,866 L1070,992 L700,1142 L616,1176"/><text transform="translate(1140,896.5) scale(0.88,1)">SK_Budget → SK_Budget</text></g>
<g class="e"><path d="M433,1083 L900,1040 L1066,996 L1195,862 L1239,847 L1468,741"/><text transform="translate(1057,1025.5) scale(0.88,1)">SK_ProductPostingGroup → SK_ProductPostingGroup</text></g>
<g class="e"><path d="M433,1081 L1020,1036 L1200,1036"/><text transform="translate(871,1060.5) scale(0.88,1)">SK_MembershipCard → SK_MembershipCard</text></g>
<g class="e"><path d="M433,1075 L607,1025"/><text transform="translate(670,1050.5) scale(0.88,1)">SK_BusinessPostingGroup → SK_BusinessPostingGroup</text></g>
<g class="e"><path d="M433,1079 L885,1037 L921,995"/><text transform="translate(597,1065.5) scale(0.88,1)">SK_Company → SK_Company</text></g>
<g class="e"><path d="M433,1345 L618,1348 L1021,1258"/><text transform="translate(820,1322.5) scale(0.88,1)">SK_SellToCustomer → SK_Customer</text></g>
<g class="e"><path d="M433,1352 L1012,1438 L1198,1438 L1462,1368 L1523,1233"/><text transform="translate(916,1434.5) scale(0.88,1)">SK_Document → SK_SalesDocument</text></g>
<g class="e"><path d="M433,1362 L1012,1444 L1400,1449 L1998,1453 L2100,1420 L2566,1274"/><text transform="translate(1469,1445.5) scale(0.88,1)">Date → Date</text></g>
<g class="e"><path d="M433,1370 L1012,1450 L1400,1456 L2100,1476 L2569,1492 L2745,1492 L2931,1424"/><text transform="translate(1623,1456.5) scale(0.88,1)">SK_Item → SK_Item</text></g>
<g class="e"><path d="M161,1461 L226,1825 L440,1824 L700,1760 L1400,1592 L2100,1419 L2566,1274"/><text transform="translate(1185,1633.5) scale(0.88,1)">Date → Date</text></g>
<g class="e"><path d="M161,1461 L226,1827 L440,1826 L700,1790 L1400,1682 L2100,1583 L2745,1492 L2931,1424"/><text transform="translate(1342,1681.5) scale(0.88,1)">SK_Item → SK_Item</text></g>
<g class="e"><path d="M968,699 L972,855"/><text transform="translate(888,781.5) scale(0.88,1)">SK_Company → SK_Company</text></g>
<g class="e"><path d="M1263,560 L1060,690 L870,818 L680,866 L504,866 L456,668"/><text transform="translate(872,811.5) scale(0.88,1)">SK_Location → SK_Location</text></g>
<g class="e"><path d="M207,987 L217,667 L437,667 L504,868 L680,872 L967,852 L1240,846 L1700,778 L2000,792 L2198,792 L2279,745"/><text transform="translate(967,848.5) scale(0.88,1)">SK_Staff → SK_Staff</text></g>
<g class="e"><path d="M1035,699 L1064,855 L1201,983"/><text transform="translate(947,855.5) scale(0.88,1)">SK_MembershipCard → SK_MembershipCard</text></g>
<g class="e"><path d="M1263,637 L1237,703"/><text transform="translate(1170,651.5) scale(0.88,1)">SK_POSTerminal → SK_POSTerminal</text></g>
<g class="e"><path d="M1046,614 L1104,704"/><text transform="translate(1153,689.5) scale(0.88,1)">SK_POSTerminal → SK_POSTerminal</text></g>
<g class="e"><path d="M433,1077 L609,918 L1064,800"/><text transform="translate(421,786.5) scale(0.88,1)">SK_POSTerminal → SK_POSTerminal</text></g>
<g class="e"><path d="M205,987 L215,667 L437,667 L504,866 L680,874 L1064,804"/><text transform="translate(615,890.5) scale(0.88,1)">SK_POSTerminal → SK_POSTerminal</text></g>
<g class="e"><path d="M432,930 L453,900 L505,724"/><text transform="translate(465,843.5) scale(0.88,1)">SK_Member → SK_Member</text></g>
<g class="e"><path d="M433,960 L482,880 L460,668"/><text transform="translate(297,668.5) scale(0.88,1)">SK_Location → SK_Location</text></g>
<g class="e"><path d="M203,987 L213,667 L437,667 L504,866 L690,900 L706,776"/><text transform="translate(461,677.5) scale(0.88,1)">SK_Offer → SK_Offer</text></g>
<g class="e"><path d="M183,987 L222,667 L301,540"/><text transform="translate(225,768.5) scale(0.88,1)">SK_Location → SK_Location</text></g>
<g class="e"><path d="M229,918 L203,828"/><text transform="translate(120,872.5) scale(0.88,1)">SK_VariantCode → SK_ItemVariant</text></g>
</g>
</svg>
